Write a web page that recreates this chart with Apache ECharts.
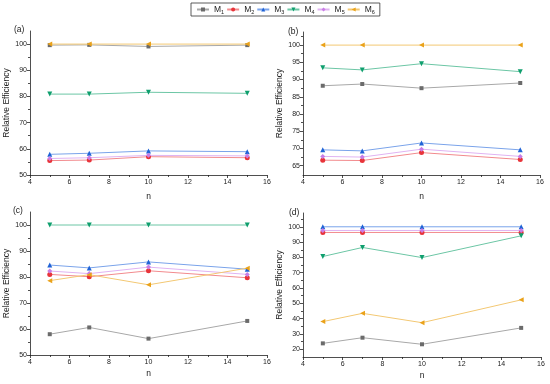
<!DOCTYPE html>
<html><head><meta charset="utf-8">
<script src="https://cdn.jsdelivr.net/npm/echarts@6/dist/echarts.min.js"></script>
<style>html,body{margin:0;padding:0;background:#fff}#c{width:550px;height:384px}</style>
</head><body><div id="c"></div>
<script>
var nVals = [5, 7, 10, 15];
var seriesNames = ['M1','M2','M3','M4','M5','M6'];
// panel (a)
var a_M1 = [99.6, 99.7, 99.1, 99.6];
var a_M2 = [55.5, 55.7, 57.0, 56.6];
var a_M3 = [57.9, 58.3, 59.2, 58.9];
var a_M4 = [80.9, 80.9, 81.6, 81.2];
var a_M5 = [56.3, 56.6, 57.5, 57.3];
var a_M6 = [100, 100, 100, 100];
// panel (b)
var b_M1 = [88.2, 88.7, 87.5, 89.0];
var b_M2 = [66.6, 66.5, 68.8, 66.8];
var b_M3 = [69.6, 69.3, 71.6, 69.6];
var b_M4 = [93.4, 92.8, 94.6, 92.3];
var b_M5 = [67.7, 67.5, 69.8, 67.7];
var b_M6 = [100, 100, 100, 100];
// panel (c)
var c_M1 = [58.0, 60.6, 56.3, 63.1];
var c_M2 = [81.0, 80.1, 82.4, 79.7];
var c_M3 = [84.6, 83.5, 85.8, 83.0];
var c_M4 = [100, 100, 100, 100];
var c_M5 = [82.3, 81.3, 83.8, 81.0];
var c_M6 = [78.6, 80.9, 77.0, 83.4];
// panel (d)
var d_M1 = [23.9, 27.6, 23.3, 34.0];
var d_M2 = [96.3, 96.3, 96.3, 96.3];
var d_M3 = [100, 100, 100, 100];
var d_M4 = [80.6, 86.5, 79.9, 94.1];
var d_M5 = [97.6, 97.6, 97.6, 97.6];
var d_M6 = [38.1, 43.5, 37.4, 52.3];
// tick labels
var yTicksA = [50, 60, 70, 80, 90, 100];
var yMinorA = [55, 65, 75, 85, 95];
var yTicksB = [65, 70, 75, 80, 85, 90, 95, 100];
var yMinorB = [67.5, 72.5, 77.5, 82.5, 87.5, 92.5, 97.5, 102.5];
var yTicksC = [50, 60, 70, 80, 90, 100];
var yMinorC = [55, 65, 75, 85, 95];
var yTicksD = [20, 30, 40, 50, 60, 70, 80, 90, 100];
var yMinorD = [25, 35, 45, 55, 65, 75, 85, 95, 105];
var panelLabels = ['(a)', '(b)', '(c)', '(d)'];

var panels = [
  {data:[a_M1,a_M2,a_M3,a_M4,a_M5,a_M6], ymin:50, ymax:105, ticks:yTicksA, minor:yMinorA},
  {data:[b_M1,b_M2,b_M3,b_M4,b_M5,b_M6], ymin:62.3, ymax:103.8, ticks:yTicksB, minor:yMinorB},
  {data:[c_M1,c_M2,c_M3,c_M4,c_M5,c_M6], ymin:50, ymax:105, ticks:yTicksC, minor:yMinorC},
  {data:[d_M1,d_M2,d_M3,d_M4,d_M5,d_M6], ymin:15, ymax:109, ticks:yTicksD, minor:yMinorD}
];
var grids = [
  {left:30, right:283, top:31, bottom:209, show:false},
  {left:303, right:10, top:32, bottom:209, show:false},
  {left:30, right:283, top:212, bottom:29, show:false},
  {left:303, right:9, top:213, bottom:27, show:false}
];
var xNameGaps = [17, 17, 14, 14];
var colors = ['#6b6b6b','#e8343a','#1f63d6','#0f9f6e','#c97ee6','#eaa21a'];
var lineColors = ['#a8a8a8','#f28a8d','#7aa3ea','#6cc6a5','#e0b3f2','#f3c873'];
var symbols = ['rect','circle','triangle','triangle','diamond','triangle'];
var rotates = [0,0,0,180,0,90];
var sizes = [4,5,5,5,5,5];

var FONT = 'Liberation Sans, Arial, sans-serif';
var xAxes = [], yAxes = [], series = [];
panels.forEach(function(p, gi){
  xAxes.push({gridIndex:gi, type:'value', min:4, max:16, interval:2,
    name:'n', nameLocation:'middle', nameGap:xNameGaps[gi],
    nameTextStyle:{fontFamily:FONT, fontSize:8.5, color:'#222'},
    axisLine:{show:true, lineStyle:{color:'#222', width:0.8}},
    axisTick:{show:true, length:3, lineStyle:{color:'#222', width:0.8}},
    minorTick:{show:true, splitNumber:2, length:2, lineStyle:{color:'#222', width:0.8}},
    splitLine:{show:false},
    axisLabel:{fontFamily:FONT, fontSize:7, color:'#222', margin:4}});
  yAxes.push({gridIndex:gi, type:'value', min:p.ymin, max:p.ymax,
    name:'Relative Efficiency', nameLocation:'middle', nameGap:17,
    nameTextStyle:{fontFamily:FONT, fontSize:8.5, color:'#222'},
    axisLine:{show:true, lineStyle:{color:'#222', width:0.8}},
    axisTick:{show:true, length:3, customValues:p.ticks, lineStyle:{color:'#222', width:0.8}},
    splitLine:{show:false},
    axisLabel:{fontFamily:FONT, fontSize:7, color:'#222', margin:3, customValues:p.ticks}});
  yAxes.push({gridIndex:gi, type:'value', position:'left', min:p.ymin, max:p.ymax,
    axisLine:{show:false},
    axisTick:{show:true, length:2, customValues:p.minor, lineStyle:{color:'#222', width:0.8}},
    splitLine:{show:false},
    axisLabel:{show:false, customValues:p.minor}});
  p.data.forEach(function(arr, si){
    series.push({name:seriesNames[si], type:'line', xAxisIndex:gi, yAxisIndex:gi*2,
      data: nVals.map(function(n,i){return [n, arr[i]];}),
      symbol:symbols[si], symbolSize:sizes[si], symbolRotate:rotates[si],
      itemStyle:{color:colors[si]},
      lineStyle:{color:lineColors[si], width:1},
      z: 2 + si});
  });
});

var chart = echarts.init(document.getElementById('c'));
chart.setOption({
  animation:false,
  grid: grids,
  xAxis: xAxes,
  yAxis: yAxes,
  series: series,
  legend:{data:seriesNames, left:191, top:3, orient:'horizontal',
    borderColor:'#333', borderWidth:0.8, padding:[2,5,1,5], itemGap:2,
    itemWidth:12, itemHeight:5,
    formatter:function(name){return '{m|M}{s|' + name.slice(1) + '}';},
    textStyle:{fontFamily:FONT, color:'#222',
      rich:{m:{fontSize:8.5, fontFamily:FONT, color:'#222'},
            s:{fontSize:5.5, fontFamily:FONT, color:'#222', padding:[5,0,0,0]}}}},
  title: [
    {text:panelLabels[0], left:14, top:25, padding:0, textStyle:{fontFamily:FONT, fontSize:8.5, fontWeight:'normal', color:'#222'}},
    {text:panelLabels[1], left:288, top:27, padding:0, textStyle:{fontFamily:FONT, fontSize:8.5, fontWeight:'normal', color:'#222'}},
    {text:panelLabels[2], left:13, top:206, padding:0, textStyle:{fontFamily:FONT, fontSize:8.5, fontWeight:'normal', color:'#222'}},
    {text:panelLabels[3], left:289, top:208, padding:0, textStyle:{fontFamily:FONT, fontSize:8.5, fontWeight:'normal', color:'#222'}}
  ]
});
</script></body></html>
